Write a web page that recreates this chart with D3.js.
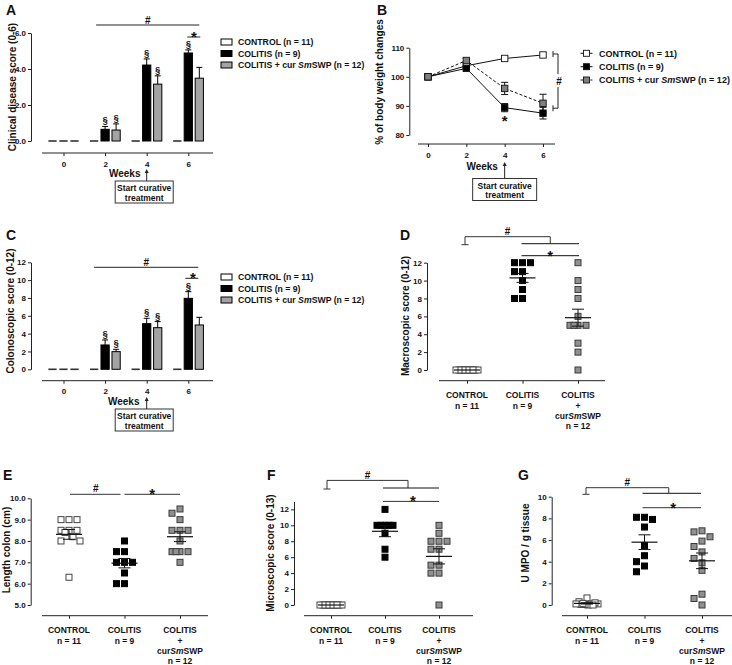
<!DOCTYPE html>
<html><head><meta charset="utf-8">
<script src="https://cdn.jsdelivr.net/npm/d3@7"></script>
<style>
body{margin:0;background:#fff}
svg text{font-family:"Liberation Sans",Arial,sans-serif;font-weight:bold;fill:#111}
</style>
</head><body>
<svg id="fig" width="732" height="665"></svg>
<script>
// ---------------- DATA ----------------
const weeks = [0, 2, 4, 6];
const groupNames = ["CONTROL", "COLITIS", "COLITIS + cur SmSWP"];
const groupN = [11, 9, 12];
const catLabels = [["CONTROL"], ["COLITIS"], ["COLITIS", "+", "curSmSWP"]];

// A: clinical disease score (mean / SEM)
const clinicalControl = [0, 0, 0, 0];
const clinicalColitis = [0, 0.65, 4.22, 4.89];
const clinicalColitisSem = [0, 0.16, 0.34, 0.17];
const clinicalCur = [0, 0.61, 3.16, 3.49];
const clinicalCurSem = [0, 0.34, 0.46, 0.6];
const clinicalColitisSig = [false, true, true, true];
const clinicalCurSig = [false, true, true, false];

// B: % body weight
const weightControl = [100, 103.8, 106.3, 107.5];
const weightControlSem = [0, 0.4, 0.5, 0.7];
const weightColitis = [100, 102.9, 89.4, 87.5];
const weightColitisSem = [0, 0.6, 1.4, 2.0];
const weightCur = [100, 105.6, 96.0, 90.9];
const weightCurSem = [0, 0.7, 2.1, 3.1];

// C: colonoscopic score
const colonoControl = [0, 0, 0, 0];
const colonoColitis = [0, 2.73, 5.12, 7.96];
const colonoColitisSem = [0, 0.56, 0.6, 0.75];
const colonoCur = [0, 1.98, 4.67, 4.97];
const colonoCurSem = [0, 0.26, 0.68, 0.86];
const colonoColitisSig = [false, true, true, true];
const colonoCurSig = [false, true, true, false];

// D: macroscopic score
const macroControl = [0, 0, 0, 0, 0, 0, 0, 0, 0, 0, 0];
const macroColitis = [12, 12, 12, 11, 11, 10, 9, 8, 8];
const macroCur = [12, 10, 9, 8, 6, 5, 5, 5, 5, 3, 2, 0];
const macroMean = [0, 10.3, 5.85];
const macroSem = [0, 0.5, 0.95];

// E: colon length
const lengthControl = [9, 9, 9, 8.5, 8.5, 8.5, 8.4, 8.2, 8, 8, 6.3];
const lengthColitis = [8, 7.5, 7.5, 7, 7, 7, 6.5, 6, 6];
const lengthCur = [9.5, 9.3, 9, 8.5, 8.5, 8.5, 8, 7.5, 7.5, 7.5, 7.5, 7];
const lengthMean = [8.31, 6.96, 8.2];
const lengthSem = [0.23, 0.22, 0.23];

// F: microscopic score
const microControl = [0, 0, 0, 0, 0, 0, 0, 0, 0, 0, 0];
const microColitis = [12, 10, 10, 10, 10, 10, 9, 7, 6];
const microCur = [10, 9, 8, 8, 8, 7, 7, 5, 5, 4, 4, 0];
const microMean = [0, 9.25, 6.1];
const microSem = [0, 0.68, 0.95];

// G: MPO
const mpoControl = [0.3, 0.65, 0.1, 0.05, 0.1, 0, 0.05, 0.15, 0.1, 0.2, 0];
const mpoColitis = [8.1, 8.1, 7.9, 7.2, 5.5, 4.55, 4.0, 3.6, 3.07];
const mpoCur = [6.85, 6.75, 6.3, 5.9, 5.4, 4.9, 4.3, 3.9, 3.2, 1.0, 0.6, 0];
const mpoMean = [0.15, 5.8, 4.08];
const mpoSem = [0.06, 0.68, 0.72];

// ---------------- HELPERS ----------------
const svg = d3.select("#fig");
svg.append("rect").attr("width", 732).attr("height", 665).attr("fill", "#fff");
const INK = "#222";

function seg(g, x1, y1, x2, y2, col, w) {
  g.append("line").attr("x1", x1).attr("y1", y1).attr("x2", x2).attr("y2", y2)
    .attr("stroke", col || INK).attr("stroke-width", w || 1);
}
function rich(sel, str) {
  str.split(/(Sm)/).forEach(p => {
    if (!p) return;
    const t = sel.append("tspan").text(p);
    if (p === "Sm") t.attr("font-style", "italic");
  });
  return sel;
}
function txt(g, x, y, s, size, anchor) {
  const t = g.append("text").attr("x", x).attr("y", y).attr("font-size", size)
    .attr("text-anchor", anchor || "middle");
  return rich(t, s);
}
function styleAxis(a) {
  a.attr("font-family", null).attr("font-size", null);
  a.select(".domain").attr("stroke", INK);
  a.selectAll(".tick line").attr("stroke", INK);
  a.selectAll(".tick text").attr("font-size", 8).attr("fill", "#111");
}
function yAxis(g, y, x0, ticks) {
  const a = g.append("g").attr("transform", `translate(${x0},0)`)
    .call(d3.axisLeft(y).tickValues(ticks).tickSize(3).tickSizeOuter(0).tickPadding(2));
  styleAxis(a);
}
function xAxis(g, x, y0, line, showLabels) {
  const ax = d3.axisBottom(x).tickSize(3).tickSizeOuter(0).tickPadding(5);
  if (!showLabels) ax.tickFormat("");
  const a = g.append("g").attr("transform", `translate(0,${y0})`).call(ax);
  a.select(".domain").attr("d", `M${line[0]},0H${line[1]}`);
  styleAxis(a);
}
function yTitle(x, y, s) {
  svg.append("text").attr("transform", `translate(${x},${y}) rotate(-90)`)
    .attr("text-anchor", "middle").attr("dy", "0.35em").attr("font-size", 10).text(s);
}
function letter(x, y, s) {
  svg.append("text").attr("x", x).attr("y", y).attr("font-size", 14).text(s);
}
function hash(g, x, y) { txt(g, x, y, "#", 10); }
function star(g, x, y) { txt(g, x, y, "*", 15); }

function startBox(g, ax, topArrow, boxTop, boxW, boxCx) {
  const h = 22;
  g.append("rect").attr("x", boxCx - boxW / 2).attr("y", boxTop).attr("width", boxW).attr("height", h)
    .attr("fill", "#fff").attr("stroke", "#333").attr("stroke-width", 1);
  txt(g, boxCx, boxTop + 10, "Start curative", 8.5);
  txt(g, boxCx, boxTop + 19.5, "treatment", 8.5);
  seg(g, ax, boxTop, ax, topArrow + 3, "#222", 1);
  g.append("path").attr("d", `M${ax - 2},${topArrow + 4}L${ax},${topArrow}L${ax + 2},${topArrow + 4}Z`).attr("fill", "#222");
}

// ---------------- BAR PANELS (A, C) ----------------
const barFills = ["#fff", "#000", "#a3a3a3"];
function barPanel(o) {
  const g = svg.append("g");
  const y = d3.scaleLinear().domain(o.yDomain).range(o.yRange);
  const x = d3.scalePoint().domain(weeks).range(o.xRange);
  const inner = d3.scaleBand().domain([0, 1, 2]).range([-16.5, 16.5]).paddingInner(0.25).paddingOuter(0.125);
  yAxis(g, y, o.yAxisX, o.yTicks);
  xAxis(g, x, o.xAxisY, o.xLine, true);
  o.series.forEach((s, si) => {
    weeks.forEach((w, i) => {
      const v = s.values[i];
      const bx = x(w) + inner(si), bw = inner.bandwidth(), cx = bx + bw / 2;
      if (v <= 0) {
        g.append("rect").attr("x", bx).attr("y", y(0) - 0.8).attr("width", bw).attr("height", 1.6).attr("fill", "#333");
        return;
      }
      g.append("rect").attr("x", bx).attr("y", y(v)).attr("width", bw).attr("height", y(0) - y(v))
        .attr("fill", barFills[si]).attr("stroke", "#000").attr("stroke-width", 1);
      let ye = y(v);
      if (s.sem && s.sem[i] > 0) {
        ye = y(v + s.sem[i]);
        seg(g, cx, y(v), cx, ye, "#000", 1);
        seg(g, cx - 3, ye, cx + 3, ye, "#000", 1);
      }
      if (s.sig && s.sig[i]) txt(g, cx, ye - 3, "§", 9.5);
    });
  });
  // legend
  o.legendY.forEach((ly, i) => {
    g.append("rect").attr("x", 221).attr("y", ly - 3).attr("width", 11).attr("height", 6)
      .attr("fill", barFills[i]).attr("stroke", "#000").attr("stroke-width", 1);
    txt(g, 238, ly + 3.2, `${groupNames[i]} (n = ${groupN[i]})`, 8.7, "start");
  });
  return { g, x, y, inner };
}

// Panel A
{
  const p = barPanel({
    yDomain: [0, 6], yRange: [141, 33], yTicks: [0, 2, 4, 6], yAxisX: 31,
    xRange: [63.5, 188.3], xAxisY: 153, xLine: [42, 213],
    series: [
      { values: clinicalControl },
      { values: clinicalColitis, sem: clinicalColitisSem, sig: clinicalColitisSig },
      { values: clinicalCur, sem: clinicalCurSem, sig: clinicalCurSig }
    ],
    legendY: [42, 53.5, 65]
  });
  const { g, x, y } = p;
  const top = y(6);
  seg(g, x(2) - 9, top - 8, x(6) + 11, top - 8);
  hash(g, (x(2) - 9 + x(6) + 11) / 2, top - 9);
  seg(g, x(6) - 1, top + 4, x(6) + 12, top + 4);
  star(g, x(6) + 5.5, top + 9);
  txt(g, x(4) - 22, 177, "Weeks", 10);
  startBox(g, x(4), 169, 181, 58, x(4) - 2.5);
  yTitle(12, 87, "Clinical disease score (0-6)");
  letter(6, 15, "A");
}

// Panel C
{
  const p = barPanel({
    yDomain: [0, 12], yRange: [369.3, 262.3], yTicks: d3.range(0, 13, 2), yAxisX: 31,
    xRange: [63.5, 188.3], xAxisY: 380.7, xLine: [42, 213],
    series: [
      { values: colonoControl },
      { values: colonoColitis, sem: colonoColitisSem, sig: colonoColitisSig },
      { values: colonoCur, sem: colonoCurSem, sig: colonoCurSig }
    ],
    legendY: [277, 288.5, 300]
  });
  const { g, x, y } = p;
  const top = y(12);
  seg(g, x(2) - 11, top + 5, x(6) + 10, top + 5);
  hash(g, (x(2) - 11 + x(6) + 10) / 2, top + 4);
  seg(g, x(6) - 3, top + 16, x(6) + 10, top + 16);
  star(g, x(6) + 4.5, top + 21);
  txt(g, x(4) - 23, 405, "Weeks", 10);
  startBox(g, x(4), 397, 409, 58, x(4) - 2.5);
  yTitle(10, 311, "Colonoscopic score (0-12)");
  letter(6, 240, "C");
}

// ---------------- LINE PANEL (B) ----------------
{
  const g = svg.append("g");
  const y = d3.scaleLinear().domain([80, 110]).range([135, 47.7]);
  const x = d3.scalePoint().domain(weeks).range([428, 543]);
  yAxis(g, y, 409.3, [80, 90, 100, 110]);
  xAxis(g, x, 144, [418, 555], true);
  const series = [
    { v: weightControl, e: weightControlSem, fill: "#fff", dash: null },
    { v: weightColitis, e: weightColitisSem, fill: "#000", dash: null },
    { v: weightCur, e: weightCurSem, fill: "#808080", dash: "3,2" }
  ];
  const line = d3.line().x((d, i) => x(weeks[i])).y(d => y(d));
  series.forEach(s => {
    g.append("path").attr("d", line(s.v)).attr("fill", "none").attr("stroke", "#111")
      .attr("stroke-width", 1).attr("stroke-dasharray", s.dash);
    s.v.forEach((v, i) => {
      const cx = x(weeks[i]);
      if (s.e[i] > 0) {
        const y1 = y(v + s.e[i]), y2 = y(v - s.e[i]);
        seg(g, cx, y1, cx, y2, "#111");
        seg(g, cx - 3.5, y1, cx + 3.5, y1, "#111");
        seg(g, cx - 3.5, y2, cx + 3.5, y2, "#111");
      }
      g.append("rect").attr("x", cx - 3.2).attr("y", y(v) - 3.2).attr("width", 6.4).attr("height", 6.4)
        .attr("fill", s.fill).attr("stroke", "#111").attr("stroke-width", 0.9);
    });
  });
  // legend
  [53.3, 66.7, 80].forEach((ly, i) => {
    const s = series[i];
    g.append("line").attr("x1", 580.5).attr("x2", 592.5).attr("y1", ly).attr("y2", ly)
      .attr("stroke", "#111").attr("stroke-dasharray", s.dash);
    g.append("rect").attr("x", 583.5).attr("y", ly - 3).attr("width", 6).attr("height", 6)
      .attr("fill", s.fill).attr("stroke", "#111").attr("stroke-width", 0.9);
    txt(g, 599, ly + 3.3, `${groupNames[i]} (n = ${groupN[i]})`, 9, "start");
  });
  // bracket
  const bx = x(6) + 15;
  const yt = y(weightControl[3]) - 1, yb = y((weightColitis[3] + weightCur[3]) / 2);
  const ym = (yt + yb) / 2;
  seg(g, bx - 5, yt, bx, yt); seg(g, bx - 5, yt - 3, bx - 5, yt + 3);
  seg(g, bx - 5, yb, bx, yb); seg(g, bx - 5, yb - 3, bx - 5, yb + 3);
  seg(g, bx, yt, bx, ym - 7); seg(g, bx, ym + 6, bx, yb);
  hash(g, bx + 1, ym + 3.5);
  star(g, x(4), y(weightColitis[2] - weightColitisSem[2]) + 14);
  txt(g, x(4) - 22.5, 170, "Weeks", 10);
  startBox(g, x(4), 162, 178.5, 64, x(4));
  yTitle(379.5, 82, "% of body weight changes");
  letter(377, 15, "B");
}

// ---------------- SCATTER PANELS (D, E, F, G) ----------------
const dotFill = ["#fff", "#000", "#909090"];
const dotStroke = ["#444", "#000", "#3a3a3a"];
// simple beeswarm: same-level points go to 0, -step, +step, then squeeze into the widest gap
function swarm(values, y, step, sq, maxHalf) {
  const idx = d3.range(values.length).sort((a, b) => values[b] - values[a]);
  const placed = [], off = new Array(values.length);
  for (const i of idx) {
    const py = y(values[i]);
    const near = placed.filter(p => Math.abs(p.y - py) < sq);
    let chosen = null;
    for (const c of [0, -step, step]) {
      if (!near.some(p => Math.abs(p.x - c) < step - 0.5)) { chosen = c; break; }
    }
    if (chosen === null) {
      let best = -1;
      for (let c = -maxHalf; c <= maxHalf + 1e-9; c += 0.5) {
        const d = d3.min(near, p => Math.abs(p.x - c));
        if (d > best + 1e-6) { best = d; chosen = c; }
      }
    }
    off[i] = chosen;
    placed.push({ x: chosen, y: py });
  }
  return off;
}
function scatterPanel(o) {
  const g = svg.append("g");
  const y = d3.scaleLinear().domain(o.yDomain).range(o.yRange);
  const x = d3.scalePoint().domain(groupNames).range(o.xRange);
  yAxis(g, y, o.yAxisX, o.yTicks);
  xAxis(g, x, o.xAxisY, o.xLine, false);
  // category labels
  groupNames.forEach((gn, i) => {
    const lines = catLabels[i].concat([`n = ${groupN[i]}`]);
    lines.forEach((l, j) => txt(g, x(gn), o.xAxisY + 17.5 + j * 10.4, l, 8.5));
  });
  o.data.forEach((vals, gi) => {
    const cx = x(groupNames[gi]);
    const off = swarm(vals, y, 8, 6.5, 11);
    vals.forEach((v, i) => {
      g.append("rect").attr("x", cx + off[i] - 3).attr("y", y(v) - 3).attr("width", 6).attr("height", 6)
        .attr("fill", dotFill[gi]).attr("stroke", dotStroke[gi]).attr("stroke-width", 1);
    });
    const m = o.mean[gi], s = o.sem[gi];
    seg(g, cx - 13, y(m), cx + 13, y(m), "#111", 1.2);
    if (s > 0) {
      seg(g, cx, y(m + s), cx, y(m - s), "#111", 1);
      seg(g, cx - 6, y(m + s), cx + 6, y(m + s), "#111", 1);
      seg(g, cx - 6, y(m - s), cx + 6, y(m - s), "#111", 1);
    }
  });
  return { g, x, y };
}
function hashBracket(g, xl, xr, yTopLine, dropL, dropR, lowX1, lowX2) {
  seg(g, xl, yTopLine, xr, yTopLine, "#333");
  seg(g, xl, yTopLine, xl, yTopLine + dropL, "#333");
  seg(g, xl - 3.5, yTopLine + dropL, xl + 3.5, yTopLine + dropL, "#333");
  seg(g, xr, yTopLine, xr, yTopLine + dropR, "#333");
  seg(g, lowX1, yTopLine + dropR, lowX2, yTopLine + dropR, "#111");
  hash(g, (xl + xr) / 2, yTopLine - 1.5);
}

// Panel D
{
  const { g, x, y } = scatterPanel({
    yDomain: [0, 12], yRange: [370, 262.7], yTicks: d3.range(0, 13, 2), yAxisX: 427,
    xRange: [467, 578], xAxisY: 380.7, xLine: [439, 605],
    data: [macroControl, macroColitis, macroCur], mean: macroMean, sem: macroSem
  });
  const xc = x(groupNames[0]), xm = x(groupNames[1]), xg = x(groupNames[2]), top = y(12);
  hashBracket(g, xc - 2, (xm + xg) / 2, top - 26, 8, 7, xm - 1, xg + 1);
  seg(g, xm - 1, top - 7, xg + 1, top - 7, "#111");
  star(g, (xm + xg) / 2, top - 2);
  yTitle(405, 316, "Macroscopic score (0-12)");
  letter(400, 240, "D");
}

// Panel E
{
  const { g, x, y } = scatterPanel({
    yDomain: [5, 10], yRange: [605, 498.3], yTicks: [5, 6, 7, 8, 9, 10], yAxisX: 30.7,
    xRange: [69, 180], xAxisY: 615.7, xLine: [42, 208],
    data: [lengthControl, lengthColitis, lengthCur], mean: lengthMean, sem: lengthSem
  });
  const xc = x(groupNames[0]), xm = x(groupNames[1]), xg = x(groupNames[2]), top = y(10);
  seg(g, xc + 1, top - 4, xm - 4, top - 4, "#333");
  hash(g, (xc + xm) / 2 - 1, top - 6);
  seg(g, xm, top - 4, xg, top - 4, "#333");
  star(g, (xm + xg) / 2, top + 1);
  yTitle(6, 550, "Length colon (cm)");
  letter(3, 480, "E");
}

// Panel F
{
  const { g, x, y } = scatterPanel({
    yDomain: [0, 13], yRange: [605, 501.4], yTicks: d3.range(0, 13, 2), yAxisX: 294,
    xRange: [331, 439], xAxisY: 615.7, xLine: [304, 473],
    data: [microControl, microColitis, microCur], mean: microMean, sem: microSem
  });
  const xc = x(groupNames[0]), xm = x(groupNames[1]), xg = x(groupNames[2]), top = y(13);
  hashBracket(g, xc - 4, (xm + xg) / 2 - 4, top - 21, 8.6, 7.6, xm - 2, xg);
  seg(g, xm - 2, top, xg, top, "#333");
  star(g, (xm + xg) / 2 + 1, top + 5);
  yTitle(270, 553, "Microscopic score (0-13)");
  letter(267, 480, "F");
}

// Panel G
{
  const { g, x, y } = scatterPanel({
    yDomain: [0, 10], yRange: [605, 496.7], yTicks: d3.range(0, 11, 2), yAxisX: 551.7,
    xRange: [587, 702], xAxisY: 615.7, xLine: [562, 732],
    data: [mpoControl, mpoColitis, mpoCur], mean: mpoMean, sem: mpoSem
  });
  const xc = x(groupNames[0]), xm = x(groupNames[1]), xg = x(groupNames[2]), top = y(10);
  hashBracket(g, xc - 1, (xm + xg) / 2 - 4.5, top - 9, 6.6, 5.6, xm - 2, xg - 1);
  seg(g, xm - 2, top + 11, xg - 1, top + 11, "#333");
  star(g, (xm + xg) / 2, top + 16);
  yTitle(525, 543, "U MPO / g tissue");
  letter(518, 480, "G");
}
</script>
</body></html>
